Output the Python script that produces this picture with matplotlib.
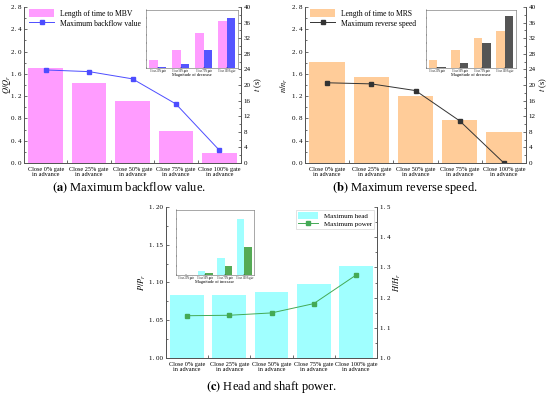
import matplotlib
matplotlib.use("Agg")
import matplotlib.pyplot as plt
import numpy as np
from matplotlib.ticker import FuncFormatter, MultipleLocator, FixedLocator

plt.rcParams['font.family'] = ['Liberation Serif', 'DejaVu Serif']
plt.rcParams['mathtext.fontset'] = 'stix'

categories = ["Close 0% gate\nin advance", "Close 25% gate\nin advance", "Close 50% gate\nin advance",
              "Close 75% gate\nin advance", "Close 100% gate\nin advance"]
inset_categories = ["Close 25% gate", "Close 50% gate", "Close 75% gate", "Close 100% gate"]

# (a)
time_mbv = [24.4, 20.6, 15.8, 8.1, 2.5]
backflow = [1.67, 1.64, 1.51, 1.06, 0.23]
inset_a_time = [14.6, 35.0, 67.0, 89.0]
inset_a_flow = [1.9, 8.3, 35.0, 95.5]

# (b)
time_mrs = [25.8, 22.0, 17.1, 11.1, 7.9]
reverse_speed = [1.44, 1.42, 1.30, 0.756, 0.0]
inset_b_time = [15.8, 33.5, 57.0, 69.6]
inset_b_speed = [1.3, 10.0, 48.0, 99.4]

# (c)
max_head = [1.207, 1.207, 1.217, 1.245, 1.304]
max_power = [1.056, 1.0566, 1.0597, 1.072, 1.1097]
inset_c_head = [0.05, 0.53, 2.46, 8.1]
inset_c_power = [0.03, 0.29, 1.26, 4.0]

W, H = 550, 396
fig = plt.figure(figsize=(5.5, 3.96), dpi=100)


def rect(l, t, r, b):
    return [l / W, (H - b) / H, (r - l) / W, (b - t) / H]


def fmt_space(dec):
    return FuncFormatter(lambda v, p: (f"{v:.{dec}f}").replace('.', '. '))


TFS = 5.0
XFS = 4.5
EDGE = '#555555'


def style_axes(ax, tw):
    x = np.arange(len(categories))
    ax.set_xlim(-0.5, len(categories) - 0.5)
    ax.set_xticks(x)
    ax.set_xticklabels(categories, fontsize=XFS, linespacing=0.95)
    ax.tick_params(axis='x', which='major', length=0, pad=3)
    ax.xaxis.set_minor_locator(FixedLocator(np.arange(-0.5, len(categories), 1.0)))
    ax.tick_params(axis='x', which='minor', direction='in', length=2, color=EDGE, width=0.6)
    for a in (ax, tw):
        a.tick_params(axis='y', which='both', direction='in', labelsize=TFS, color=EDGE, width=0.6, pad=2)
        a.tick_params(axis='y', which='major', length=2.5)
        a.tick_params(axis='y', which='minor', length=1.3)
        a.spines['top'].set_visible(False)
        for s in ('left', 'right', 'bottom'):
            a.spines[s].set_color(EDGE)
            a.spines[s].set_linewidth(0.7)
    ax.set_zorder(tw.get_zorder() + 1)
    ax.patch.set_visible(False)


def inset(r, v1, v2, c1, c2, xlabel, ymax):
    ia = fig.add_axes(rect(*r))
    x = np.arange(len(inset_categories))
    w = 0.38
    ia.bar(x - w / 2, v1, width=w, color=c1)
    ia.bar(x + w / 2, v2, width=w, color=c2)
    ia.set_xlim(-0.5, len(inset_categories) - 0.5)
    ia.set_ylim(0, ymax)
    ia.set_xticks(x)
    ia.set_xticklabels(inset_categories, fontsize=1.8)
    ia.tick_params(axis='x', length=0.8, pad=0.5, width=0.3, direction='in')
    ia.tick_params(axis='y', length=0.8, width=0.3, direction='in', labelleft=False)
    ia.yaxis.set_major_locator(MultipleLocator(ymax / 7))
    ia.set_xlabel(xlabel, fontsize=3.2, labelpad=0.5)
    for s in ia.spines.values():
        s.set_linewidth(0.4)
        s.set_color('#666666')
    return ia


def legend(ax, tw, **kw):
    h1, l1 = tw.get_legend_handles_labels()
    h2, l2 = ax.get_legend_handles_labels()
    return ax.legend(h1 + h2, l1 + l2, **kw)


x = np.arange(len(categories))

# ---------------- (a)
ax = fig.add_axes(rect(24, 7, 241, 163))
tw = ax.twinx()
tw.bar(x, time_mbv, width=0.8, color='#ff9cff', label='Length of time to MBV')
ax.plot(x, backflow, color='#4d4dff', lw=0.7, marker='s', ms=2.2, label='Maximum backflow value')
ax.set_ylim(0, 2.8)
ax.yaxis.set_major_locator(MultipleLocator(0.4))
ax.yaxis.set_minor_locator(MultipleLocator(0.2))
ax.yaxis.set_major_formatter(fmt_space(1))
tw.set_ylim(0, 40)
tw.yaxis.set_major_locator(MultipleLocator(4))
tw.yaxis.set_minor_locator(MultipleLocator(2))
style_axes(ax, tw)
ax.set_ylabel(r'$Q/Q_r$', fontsize=6, va='center')
ax.yaxis.set_label_coords((7 - 24) / 217, 0.5)
tw.set_ylabel(r'$t$ (s)', fontsize=6, labelpad=1)
legend(ax, tw, loc='upper left', fontsize=5.5, frameon=False, bbox_to_anchor=(0.0, 1.02),
       handlelength=3.2, handleheight=1.2, labelspacing=0.2, borderaxespad=0.3)
inset((146, 10, 238, 68), inset_a_time, inset_a_flow, '#ff9cff', '#5555ff', 'Magnitude of decrease', 110)
fig.text(129 / W, 1 - 188 / H, r'$\mathbf{(a)}$ Maximum backflow value.', ha='center', va='center', fontsize=9)

# ---------------- (b)
ax = fig.add_axes(rect(305, 7, 526, 163))
tw = ax.twinx()
tw.bar(x, time_mrs, width=0.8, color='#ffcc99', label='Length of time to MRS')
ax.plot(x, reverse_speed, color='#333333', lw=0.7, marker='s', ms=2.2, label='Maximum reverse speed')
ax.set_ylim(0, 2.8)
ax.yaxis.set_major_locator(MultipleLocator(0.4))
ax.yaxis.set_minor_locator(MultipleLocator(0.2))
ax.yaxis.set_major_formatter(fmt_space(1))
tw.set_ylim(0, 40)
tw.yaxis.set_major_locator(MultipleLocator(4))
tw.yaxis.set_minor_locator(MultipleLocator(2))
style_axes(ax, tw)
ax.set_ylabel(r'$n/n_r$', fontsize=6, labelpad=1)
tw.set_ylabel(r'$t$ (s)', fontsize=6, labelpad=1)
legend(ax, tw, loc='upper left', fontsize=5.5, frameon=False, bbox_to_anchor=(0.0, 1.02),
       handlelength=3.2, handleheight=1.2, labelspacing=0.2, borderaxespad=0.3)
inset((426, 10, 516, 68), inset_b_time, inset_b_speed, '#ffcc99', '#555555', 'Magnitude of decrease', 110)
fig.text(405 / W, 1 - 188 / H, r'$\mathbf{(b)}$ Maximum reverse speed.', ha='center', va='center', fontsize=9)

# ---------------- (c)
ax = fig.add_axes(rect(166, 207, 377, 358))
tw = ax.twinx()
tw.bar(x, max_head, width=0.8, color='#a0ffff', label='Maximum head')
ax.plot(x, max_power, color='#44aa55', lw=0.7, marker='s', ms=2.2, label='Maximum power')
ax.set_ylim(1.0, 1.2)
ax.yaxis.set_major_locator(MultipleLocator(0.05))
ax.yaxis.set_minor_locator(MultipleLocator(0.025))
ax.yaxis.set_major_formatter(fmt_space(2))
tw.set_ylim(1.0, 1.5)
tw.yaxis.set_major_locator(MultipleLocator(0.1))
tw.yaxis.set_minor_locator(MultipleLocator(0.05))
tw.yaxis.set_major_formatter(fmt_space(1))
style_axes(ax, tw)
ax.set_ylabel(r'$P/P_r$', fontsize=6, labelpad=1)
tw.set_ylabel(r'$H/H_r$', fontsize=6, labelpad=1)
leg = legend(ax, tw, loc='upper right', fontsize=5.0, frameon=True, fancybox=False,
             handlelength=3.0, handleheight=1.1, labelspacing=0.2, borderaxespad=0.4, borderpad=0.3)
leg.get_frame().set_edgecolor('#cccccc')
leg.get_frame().set_linewidth(0.5)
inset((176, 210, 254, 275), inset_c_head, inset_c_power, '#a0ffff', '#55aa55', 'Magnitude of increase', 9.4)
fig.text(271 / W, 1 - 387 / H, r'$\mathbf{(c)}$ Head and shaft power.', ha='center', va='center', fontsize=9)

fig.savefig('out.png', dpi=100)
